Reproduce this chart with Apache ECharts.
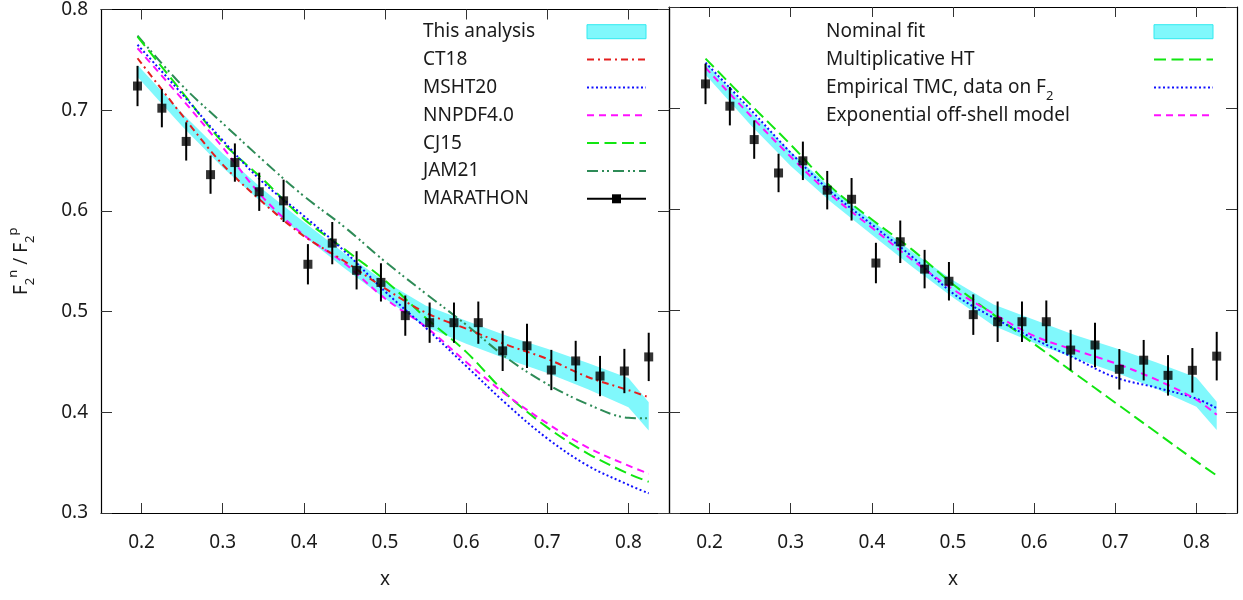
<!DOCTYPE html>
<html>
<head>
<meta charset="utf-8">
<script src="https://cdn.jsdelivr.net/npm/echarts@6/dist/echarts.min.js"></script>
<style>
html,body{margin:0;padding:0;background:#fff;}
#c{width:1243px;height:600px;}
</style>
</head>
<body>
<div id="c"></div>
<script>
// ---- data ----
const xTicks = [0.2, 0.3, 0.4, 0.5, 0.6, 0.7, 0.8];
const yTicks = [0.3, 0.4, 0.5, 0.6, 0.7, 0.8];

const xGrid   = [0.195, 0.25, 0.3, 0.35, 0.4, 0.45, 0.5, 0.55, 0.6, 0.65, 0.7, 0.75, 0.8, 0.825];
const bandLow  = [0.733, 0.684, 0.643, 0.607, 0.575, 0.543, 0.513, 0.485, 0.468, 0.453, 0.439, 0.423, 0.405, 0.382];
const bandHigh = [0.745, 0.697, 0.657, 0.621, 0.589, 0.558, 0.530, 0.506, 0.491, 0.476, 0.463, 0.449, 0.434, 0.410];
const ct18    = [0.7516, 0.695, 0.646, 0.608, 0.575, 0.550, 0.523, 0.499, 0.483, 0.467, 0.453, 0.435, 0.422, 0.415];
const msht20  = [0.765, 0.716, 0.670, 0.628, 0.595, 0.560, 0.520, 0.484, 0.446, 0.408, 0.374, 0.347, 0.328, 0.3195];
const nnpdf40 = [0.7615, 0.711, 0.663, 0.613, 0.576, 0.548, 0.513, 0.485, 0.450, 0.417, 0.389, 0.365, 0.347, 0.339];
const cj15    = [0.773, 0.718, 0.668, 0.631, 0.592, 0.562, 0.531, 0.494, 0.460, 0.418, 0.385, 0.359, 0.339, 0.331];
const jam21   = [0.774, 0.7245, 0.687, 0.650, 0.6147, 0.584, 0.5497, 0.518, 0.487, 0.454, 0.428, 0.408, 0.3945, 0.394];

const htMult  = [0.749, 0.704, 0.664, 0.622, 0.590, 0.560, 0.526, 0.496, 0.467, 0.438, 0.409, 0.380, 0.351, 0.337];
const tmcEmp  = [0.745, 0.699, 0.656, 0.617, 0.585, 0.553, 0.517, 0.493, 0.472, 0.453, 0.434, 0.424, 0.413, 0.4035];
const expOff  = [0.740, 0.693, 0.652, 0.614, 0.582, 0.550, 0.521, 0.497, 0.475, 0.461, 0.448, 0.432, 0.412, 0.397];

const marX   = [0.195, 0.225, 0.255, 0.285, 0.315, 0.345, 0.375, 0.405, 0.435, 0.465, 0.495, 0.525, 0.555, 0.585, 0.615, 0.645, 0.675, 0.705, 0.735, 0.765, 0.795, 0.825];
const marY   = [0.724, 0.702, 0.669, 0.636, 0.648, 0.619, 0.610, 0.547, 0.568, 0.541, 0.529, 0.496, 0.489, 0.489, 0.489, 0.461, 0.466, 0.442, 0.451, 0.436, 0.441, 0.455];
const marErr = [0.020, 0.019, 0.019, 0.019, 0.019, 0.019, 0.021, 0.020, 0.021, 0.019, 0.019, 0.020, 0.020, 0.020, 0.021, 0.020, 0.022, 0.020, 0.020, 0.020, 0.022, 0.024];

const leftLegend  = ['This analysis', 'CT18', 'MSHT20', 'NNPDF4.0', 'CJ15', 'JAM21', 'MARATHON'];
const rightLegend = ['Nominal fit', 'Multiplicative HT', 'Empirical TMC, data on F{sub|2}', 'Exponential off-shell model'];

// ---- styles ----
const FONT = '"Noto Sans", "Open Sans", sans-serif';
const FS = 19;
const TXT = '#1a1a1a';
const BAND = '#80f8fc';
const BAND_EDGE = '#30eaf0';
const C = {
  ct18:  {color: '#e41e1e', dash: [7, 4, 2, 4]},
  msht:  {color: '#1010ff', dash: [2, 2.5]},
  nnpdf: {color: '#ff10ff', dash: [7, 5]},
  cj15:  {color: '#11e611', dash: [12, 5.5]},
  jam:   {color: '#2e8b57', dash: [11, 4, 2, 3, 2, 4]}
};

const pairs = (ys) => xGrid.map((x, i) => [x, ys[i]]);

function curve(name, ys, st, gi) {
  return {
    name, type: 'line', xAxisIndex: gi * 2, yAxisIndex: gi * 2,
    data: pairs(ys), smooth: 0.35, showSymbol: false, silent: true,
    lineStyle: {color: st.color, width: 2, type: st.dash},
    z: 3
  };
}
function band(gi) {
  return {
    type: 'custom', xAxisIndex: gi * 2, yAxisIndex: gi * 2, silent: true, z: 1,
    data: xGrid.map((x, i) => [x, bandLow[i], bandHigh[i]]),
    encode: {x: 0, y: [1, 2]},
    renderItem: (params, api) => {
      if (params.dataIndex !== 0) return null;
      const up = [], lo = [];
      for (let i = 0; i < xGrid.length; i++) {
        up.push(api.coord([xGrid[i], bandHigh[i]]));
        lo.push(api.coord([xGrid[i], bandLow[i]]));
      }
      return {type: 'polygon', shape: {points: up.concat(lo.reverse())}, style: {fill: BAND}};
    }
  };
}
function marathon(gi) {
  const d = marX.map((x, i) => [x, marY[i], marErr[i]]);
  return [
    {
      type: 'custom', xAxisIndex: gi * 2, yAxisIndex: gi * 2, data: d, silent: true,
      encode: {x: 0, y: 1}, z: 5,
      renderItem: (params, api) => {
        const x = api.value(0), y = api.value(1), e = api.value(2);
        const p1 = api.coord([x, y - e]), p2 = api.coord([x, y + e]);
        return {type: 'line', shape: {x1: p1[0], y1: p1[1], x2: p2[0], y2: p2[1]},
                style: {stroke: '#000', lineWidth: 2}};
      }
    },
    {
      type: 'scatter', xAxisIndex: gi * 2, yAxisIndex: gi * 2, silent: true,
      data: d.map(p => [p[0], p[1]]), symbol: 'rect', symbolSize: 9,
      itemStyle: {color: '#000'}, z: 6
    }
  ];
}

const axisLineStyle = {lineStyle: {color: '#000', width: 1.2}};
function xAxes(gi) {
  return [
    {
      type: 'value', gridIndex: gi, min: 0.15, max: 0.85, position: 'bottom',
      axisLine: {show: true, onZero: false, ...axisLineStyle},
      axisTick: {show: true, inside: true, length: 10, customValues: xTicks, lineStyle: {color: '#333'}},
      axisLabel: {show: true, customValues: xTicks, margin: 20, color: TXT, fontFamily: FONT, fontSize: FS,
                  formatter: v => v.toFixed(1)},
      splitLine: {show: false},
      name: 'x', nameLocation: 'middle', nameGap: 57,
      nameTextStyle: {color: TXT, fontFamily: FONT, fontSize: FS}
    },
    {
      type: 'value', gridIndex: gi, min: 0.15, max: 0.85, position: 'top',
      axisLine: {show: true, onZero: false, ...axisLineStyle},
      axisTick: {show: true, inside: true, length: 10, customValues: xTicks, lineStyle: {color: '#333'}},
      axisLabel: {show: false}, splitLine: {show: false}
    }
  ];
}
function yAxes(gi) {
  const left = {
    type: 'value', gridIndex: gi, min: 0.3, max: 0.8, position: 'left',
    axisLine: {show: true, onZero: false, ...axisLineStyle},
    axisTick: {show: true, inside: true, length: 11, customValues: yTicks, lineStyle: {color: '#333'}},
    axisLabel: {show: gi === 0, customValues: yTicks, margin: 13, color: TXT, fontFamily: FONT, fontSize: FS,
                formatter: v => v.toFixed(1)},
    splitLine: {show: false}
  };
  if (gi === 0) {
    Object.assign(left, {
      name: 'F{sub|2}{sup|n} / F{sub|2}{sup|p}', nameLocation: 'middle', nameGap: 64, nameRotate: 90,
      nameTextStyle: {
        color: TXT, fontFamily: FONT, fontSize: FS, lineHeight: 30,
        rich: {
          sub: {fontFamily: FONT, fontSize: 13, color: TXT, verticalAlign: 'bottom', lineHeight: 13},
          sup: {fontFamily: FONT, fontSize: 13, color: TXT, verticalAlign: 'top', lineHeight: 13}
        }
      }
    });
  }
  return [
    left,
    {
      type: 'value', gridIndex: gi, min: 0.3, max: 0.8, position: 'right',
      axisLine: {show: true, onZero: false, ...axisLineStyle},
      axisTick: {show: true, inside: true, length: 11, customValues: yTicks, lineStyle: {color: '#333'}},
      axisLabel: {show: false}, splitLine: {show: false}
    }
  ];
}

// ---- legend (drawn) ----
const LY0 = 31.7, LDY = 27.85;
function legendText(x, y, text) {
  return {
    type: 'text', x, y, silent: true, z: 100,
    style: {
      text, fill: TXT, fontFamily: FONT, fontSize: FS, verticalAlign: 'middle', align: 'left',
      rich: {sub: {fontFamily: FONT, fontSize: 13, fill: TXT, verticalAlign: 'bottom', lineHeight: 10, padding: [0, 0, -6, 0]}}
    }
  };
}
function legendLine(x1, x2, y, st) {
  return {type: 'line', silent: true, z: 100, shape: {x1, y1: y, x2, y2: y},
          style: {stroke: st.color, lineWidth: 2, lineDash: st.dash}};
}
function legendBand(x1, x2, y) {
  return {type: 'rect', silent: true, z: 100, shape: {x: x1, y: y - 7, width: x2 - x1, height: 14},
          style: {fill: BAND, stroke: BAND_EDGE, lineWidth: 1}};
}
const graphics = [];
const lTx = 423, lI1 = 587, lI2 = 646;
const leftStyles = [null, C.ct18, C.msht, C.nnpdf, C.cj15, C.jam, null];
leftLegend.forEach((t, i) => {
  const y = LY0 + LDY * i;
  graphics.push(legendText(lTx, y, t));
  if (i === 0) graphics.push(legendBand(lI1, lI2, y));
  else if (i === 6) {
    graphics.push({type: 'line', silent: true, z: 100, shape: {x1: lI1, y1: y, x2: lI2, y2: y}, style: {stroke: '#000', lineWidth: 2}});
    graphics.push({type: 'rect', silent: true, z: 101, shape: {x: (lI1 + lI2) / 2 - 4.5, y: y - 4.5, width: 9, height: 9}, style: {fill: '#000'}});
  } else graphics.push(legendLine(lI1, lI2, y, leftStyles[i]));
});
const rTx = 826, rI1 = 1154, rI2 = 1213;
const rightStyles = [null, C.cj15, C.msht, C.nnpdf];
rightLegend.forEach((t, i) => {
  const y = LY0 + LDY * i;
  graphics.push(legendText(rTx, y, t));
  if (i === 0) graphics.push(legendBand(rI1, rI2, y));
  else graphics.push(legendLine(rI1, rI2, y, rightStyles[i]));
});

const option = {
  animation: false,
  backgroundColor: '#fff',
  textStyle: {fontFamily: FONT},
  grid: [
    {left: 101, top: 7, width: 568, height: 506},
    {left: 669, top: 7, width: 568, height: 506}
  ],
  xAxis: [...xAxes(0), ...xAxes(1)],
  yAxis: [...yAxes(0), ...yAxes(1)],
  series: [
    band(0),
    curve('JAM21', jam21, C.jam, 0),
    curve('CJ15', cj15, C.cj15, 0),
    curve('NNPDF4.0', nnpdf40, C.nnpdf, 0),
    curve('MSHT20', msht20, C.msht, 0),
    curve('CT18', ct18, C.ct18, 0),
    ...marathon(0),
    band(1),
    curve('Multiplicative HT', htMult, C.cj15, 1),
    curve('Empirical TMC', tmcEmp, C.msht, 1),
    curve('Exponential off-shell model', expOff, C.nnpdf, 1),
    ...marathon(1)
  ],
  graphic: {elements: graphics}
};

const chart = echarts.init(document.getElementById('c'), null, {renderer: 'canvas'});
chart.setOption(option);
</script>
</body>
</html>
